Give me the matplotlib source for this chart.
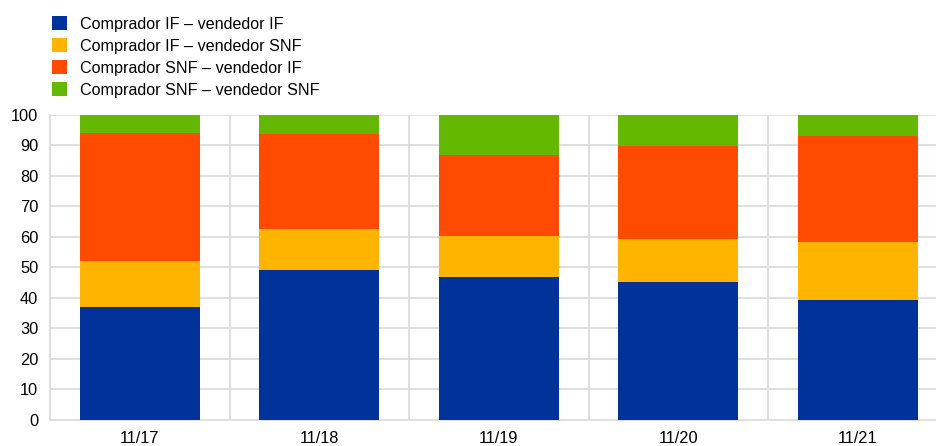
import matplotlib
matplotlib.use("Agg")
import matplotlib.pyplot as plt
import numpy as np

plt.rcParams['font.family'] = ['Liberation Sans', 'DejaVu Sans']

categories = ["11/17", "11/18", "11/19", "11/20", "11/21"]
series_names = [
    "Comprador IF – vendedor IF",
    "Comprador IF – vendedor SNF",
    "Comprador SNF – vendedor IF",
    "Comprador SNF – vendedor SNF",
]
if_if = [36.8, 49.0, 46.9, 45.2, 39.3]
if_snf = [15.2, 13.4, 13.3, 14.1, 19.0]
snf_if = [42.0, 31.2, 26.5, 30.6, 34.9]
snf_snf = [6.0, 6.4, 13.3, 10.1, 6.8]
colors = ["#003299", "#FFB400", "#FF4B00", "#65B800"]

W, H = 937, 446
fig = plt.figure(figsize=(W / 100, H / 100), dpi=100)
left, right, top, bottom = 50, 947.5, 115, 419.5
ax = fig.add_axes([left / W, 1 - bottom / H, (right - left) / W, (bottom - top) / H])

x = np.arange(len(categories))
base = np.zeros(len(categories))
handles = []
for vals, col, name in zip([if_if, if_snf, snf_if, snf_snf], colors, series_names):
    b = ax.bar(x, vals, bottom=base, width=0.67, color=col, label=name, zorder=3)
    handles.append(b)
    base += np.array(vals)

ax.set_xlim(-0.5, len(categories) - 0.5)
ax.set_ylim(0, 100)
ax.set_yticks(np.arange(0, 101, 10))
ax.set_xticks(x)
ax.set_xticklabels(categories)

grid_col = "#d9d9d9"
for yv in np.arange(10, 101, 10):
    ax.axhline(yv, color=grid_col, lw=1.2, zorder=1)
for xv in np.arange(0.5, len(categories) - 0.5, 1):
    ax.axvline(xv, color=grid_col, lw=1.2, zorder=1)

for s in ["top", "right"]:
    ax.spines[s].set_visible(False)
for s in ["left", "bottom"]:
    ax.spines[s].set_color(grid_col)
    ax.spines[s].set_linewidth(1.2)

ax.tick_params(axis="both", length=0, labelsize=11.8, colors="#000000")
ax.tick_params(axis="y", pad=8.5)
ax.tick_params(axis="x", pad=8.5)

leg = fig.legend(handles=handles, labels=series_names, loc="upper left",
                 bbox_to_anchor=(41 / W, 1 - 5 / H), frameon=False,
                 fontsize=11.6, handlelength=0.9, handleheight=0.9,
                 handletextpad=0.85, labelspacing=0.42, borderpad=0.2)

fig.savefig("out.png", dpi=100)
